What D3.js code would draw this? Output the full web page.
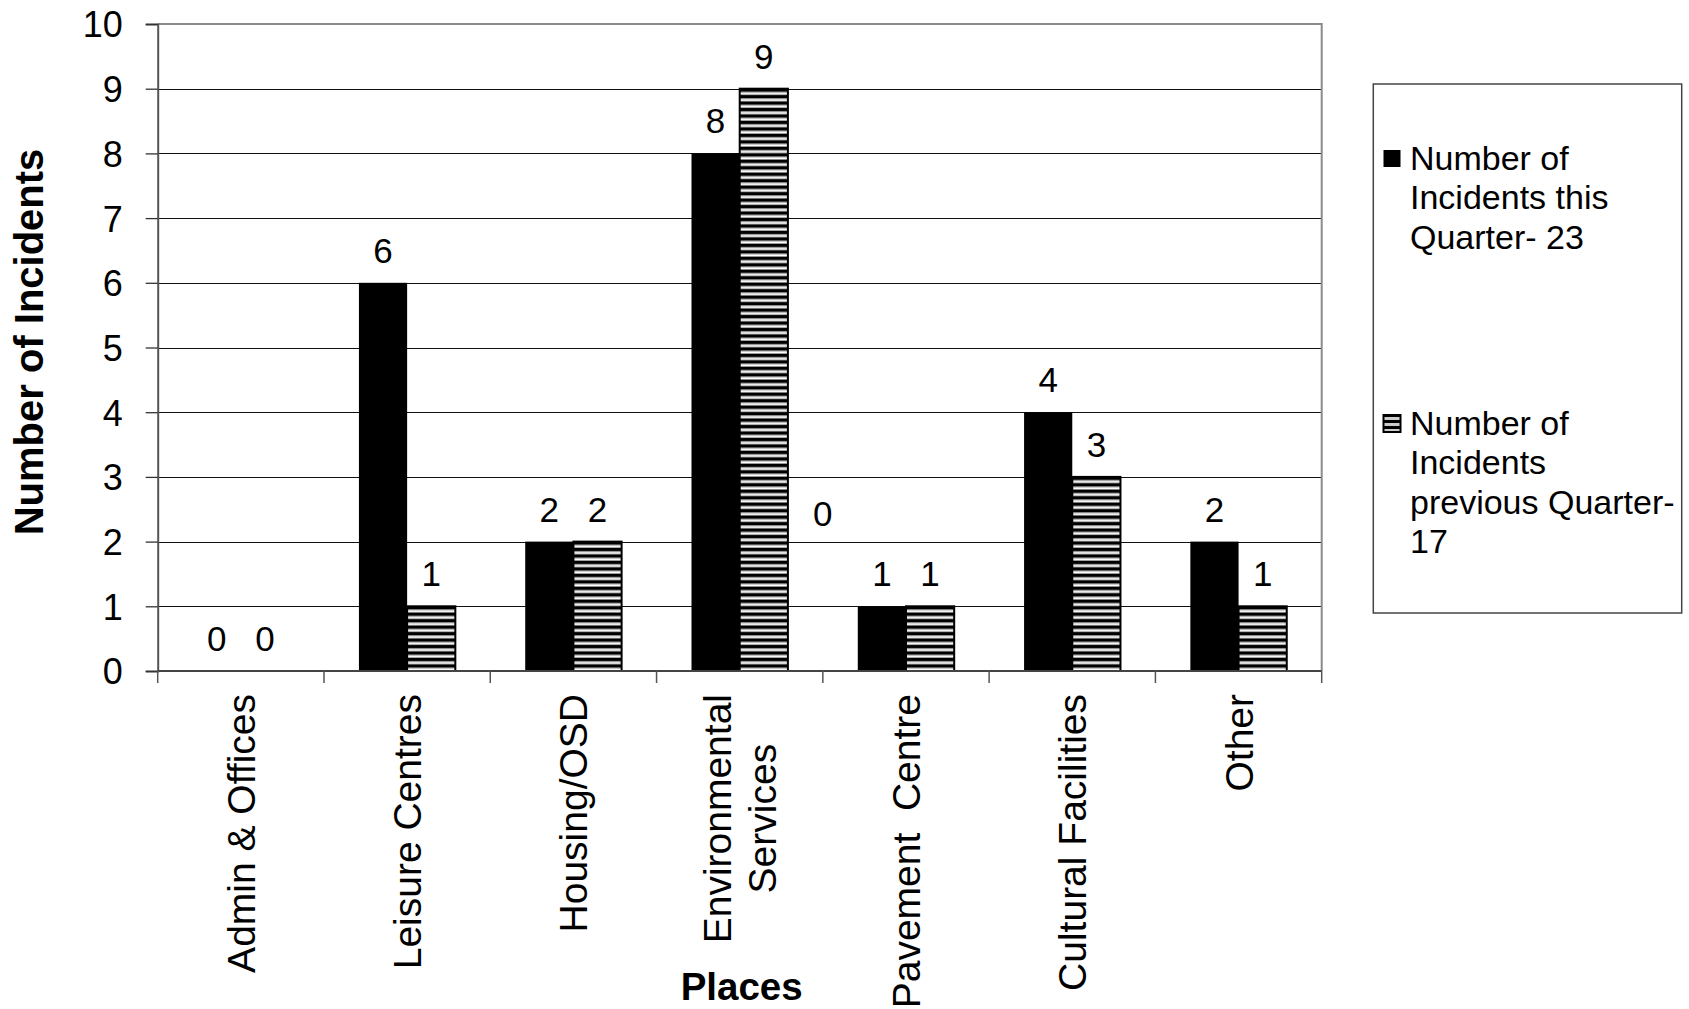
<!DOCTYPE html>
<html>
<head>
<meta charset="utf-8">
<script src="https://cdn.jsdelivr.net/npm/d3@7"></script>
<style>
  html, body { margin: 0; padding: 0; background: #fff; }
  svg { display: block; }
  text { font-family: "Liberation Sans", Arial, Helvetica, sans-serif; fill: #000; }
</style>
</head>
<body>
<svg id="chart" width="1689" height="1009"></svg>
<script>
// Incidents by place, this quarter vs previous quarter
const categories = [
  "Admin & Offices",
  "Leisure Centres",
  "Housing/OSD",
  "Environmental\nServices",
  "Pavement  Centre",
  "Cultural Facilities",
  "Other"
];
const seriesKeys = ["current", "previous"];
const seriesNames = [
  ["Number of", "Incidents this", "Quarter- 23"],
  ["Number of", "Incidents", "previous Quarter-", "17"]
];
const currentQuarter = [0, 6, 2, 8, 1, 4, 2];
const previousQuarter = [0, 1, 2, 9, 1, 3, 1];
const yTicks = [0, 1, 2, 3, 4, 5, 6, 7, 8, 9, 10];
// a lone "0" label that sits between Environmental Services and Pavement Centre
const looseLabel = { text: "0", afterCategory: 3, value: 2 };

const svg = d3.select("#chart");

const plot = { left: 157.7, right: 1321.7, top: 24, bottom: 671 };

const x0 = d3.scaleBand()
  .domain(categories)
  .range([plot.left, plot.right])
  .paddingInner(0)
  .paddingOuter(0);

const x1 = d3.scaleBand()
  .domain(seriesKeys)
  .range([0, x0.bandwidth()])
  .paddingInner(0)
  .paddingOuter(0.725);

const y = d3.scaleLinear()
  .domain([0, 10])
  .range([plot.bottom, plot.top]);

// Horizontal stripe fill for the previous-quarter bars
const defs = svg.append("defs");
const stripeH = (y(0) - y(1)) / 10;
const pat = defs.append("pattern")
  .attr("id", "stripes")
  .attr("patternUnits", "userSpaceOnUse")
  .attr("width", 10)
  .attr("height", stripeH)
  .attr("y", plot.bottom);
pat.append("rect").attr("width", 10).attr("height", stripeH).attr("fill", "#fff");
pat.append("rect").attr("y", 0).attr("width", 10).attr("height", stripeH * 0.5).attr("fill", "#000");
pat.append("rect").attr("y", stripeH * 0.5).attr("width", 10).attr("height", stripeH * 0.12).attr("fill", "#888");
pat.append("rect").attr("y", stripeH * 0.88).attr("width", 10).attr("height", stripeH * 0.12).attr("fill", "#888");

const patSmall = defs.append("pattern")
  .attr("id", "stripesSmall")
  .attr("patternUnits", "userSpaceOnUse")
  .attr("width", 10)
  .attr("height", 6)
  .attr("y", 0);
patSmall.append("rect").attr("width", 10).attr("height", 6).attr("fill", "#ccc");
patSmall.append("rect").attr("width", 10).attr("height", 3).attr("fill", "#000");

// Gridlines
svg.append("g")
  .selectAll("line")
  .data(yTicks.filter(t => t > 0 && t < 10))
  .join("line")
  .attr("x1", plot.left)
  .attr("x2", plot.right)
  .attr("y1", d => Math.round(y(d)) + 0.5)
  .attr("y2", d => Math.round(y(d)) + 0.5)
  .attr("stroke", "#111")
  .attr("stroke-width", 1.2);

// Plot frame (top & right)
svg.append("path")
  .attr("d", `M${plot.left},${y(10)}H${plot.right}V${plot.bottom}`)
  .attr("fill", "none")
  .attr("stroke", "#8a8a8a")
  .attr("stroke-width", 2);

// Bars
const rows = categories.map((c, i) => ({
  cat: c,
  values: [
    { key: "current", v: currentQuarter[i] },
    { key: "previous", v: previousQuarter[i] }
  ]
}));

const groups = svg.append("g")
  .selectAll("g")
  .data(rows)
  .join("g")
  .attr("transform", d => `translate(${x0(d.cat)},0)`);

groups.selectAll("rect")
  .data(d => d.values.filter(v => v.v > 0))
  .join("rect")
  .attr("x", d => x1(d.key))
  .attr("width", x1.bandwidth())
  .attr("y", d => y(d.v))
  .attr("height", d => y(0) - y(d.v))
  .attr("fill", d => d.key === "current" ? "#000" : "url(#stripes)")
  .attr("stroke", "#000")
  .attr("stroke-width", d => d.key === "current" ? 0 : 2);

// Value labels
groups.selectAll("text")
  .data(d => d.values)
  .join("text")
  .attr("x", d => x1(d.key) + x1.bandwidth() / 2)
  .attr("y", d => y(d.v) - 20)
  .attr("text-anchor", "middle")
  .style("font-size", "35px")
  .text(d => d.v);

// Loose label
svg.append("text")
  .attr("x", x0(categories[looseLabel.afterCategory]) + x0.bandwidth())
  .attr("y", y(looseLabel.value) - 16)
  .attr("text-anchor", "middle")
  .style("font-size", "35px")
  .text(looseLabel.text);

// Y axis
const yAxis = d3.axisLeft(y)
  .tickValues(yTicks)
  .tickSize(12)
  .tickPadding(23)
  .tickFormat(d3.format("d"));
const yG = svg.append("g")
  .attr("transform", `translate(${plot.left},0)`)
  .call(yAxis);
yG.select(".domain").attr("stroke", "#555").attr("stroke-width", 2);
yG.selectAll(".tick line").attr("stroke", "#333").attr("stroke-width", 1.3);
yG.selectAll(".tick text")
  .style("font-size", "36px")
  .style("font-family", "'Liberation Sans', Arial, sans-serif")
  .attr("fill", "#000")
  .attr("dy", "0.36em");

// X axis with ticks on the category boundaries
const bounds = categories.map(c => x0(c)).concat([plot.right]);
svg.append("line")
  .attr("x1", plot.left).attr("x2", plot.right)
  .attr("y1", plot.bottom).attr("y2", plot.bottom)
  .attr("stroke", "#444").attr("stroke-width", 2);
svg.append("g")
  .selectAll("line")
  .data(bounds)
  .join("line")
  .attr("x1", d => d).attr("x2", d => d)
  .attr("y1", plot.bottom).attr("y2", plot.bottom + 12)
  .attr("stroke", "#555").attr("stroke-width", 1.5);

// Category labels, rotated, right-aligned to the axis
const catFont = 39;
const lineGap = 45;
const labelTop = 694;
categories.forEach(c => {
  const lines = c.split("\n");
  const t = svg.append("text")
    .attr("text-anchor", "middle")
    .style("font-size", catFont + "px")
    .style("white-space", "pre");
  lines.forEach((ln, i) => {
    t.append("tspan")
      .attr("x", 0)
      .attr("y", 14 + (i - (lines.length - 1) / 2) * lineGap)
      .text(ln);
  });
  const maxLen = d3.max(t.selectAll("tspan").nodes(), n => n.getComputedTextLength());
  const cx = x0(c) + x0.bandwidth() / 2;
  t.attr("transform", `translate(${cx},${labelTop + maxLen / 2}) rotate(-90)`);
});

// Axis titles
svg.append("text")
  .attr("transform", "translate(43,342) rotate(-90)")
  .attr("text-anchor", "middle")
  .style("font-size", "40px")
  .style("font-weight", "bold")
  .text("Number of Incidents");

svg.append("text")
  .attr("x", 741.7)
  .attr("y", 1000)
  .attr("text-anchor", "middle")
  .style("font-size", "38.5px")
  .style("font-weight", "bold")
  .text("Places");

// Legend
const legend = svg.append("g");
legend.append("rect")
  .attr("x", 1373.3).attr("y", 84)
  .attr("width", 308.4).attr("height", 529)
  .attr("fill", "#fff")
  .attr("stroke", "#444")
  .attr("stroke-width", 1.5);

const legendTops = [150, 415];
seriesKeys.forEach((k, i) => {
  legend.append("rect")
    .attr("x", 1383.5).attr("y", legendTops[i])
    .attr("width", 17).attr("height", 17)
    .attr("fill", k === "current" ? "#000" : "url(#stripesSmall)")
    .attr("stroke", "#000")
    .attr("stroke-width", k === "current" ? 0 : 2);
  const t = legend.append("text").style("font-size", "34px");
  seriesNames[i].forEach((ln, j) => {
    t.append("tspan")
      .attr("x", 1410)
      .attr("y", legendTops[i] + 20 + j * 39.3)
      .text(ln);
  });
});
</script>
</body>
</html>
